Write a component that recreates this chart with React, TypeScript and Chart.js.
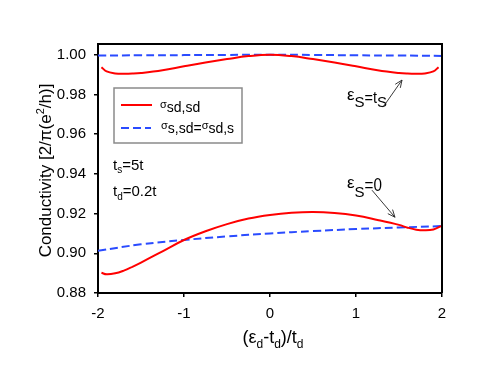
import React, { useEffect, useRef } from "react";
import { Chart, registerables } from "chart.js";

Chart.register(...registerables);

// ---- data ----
const xBlue = [-2, -1.5, -1, -0.5, 0, 0.5, 1, 1.5, 2];
const blueUpper = [0.9996, 0.9997, 0.9998, 0.9999, 1.0, 0.9999, 0.9997, 0.9996, 0.9994];
const blueLower = [0.9013, 0.9045, 0.9067, 0.9085, 0.91, 0.9112, 0.9122, 0.913, 0.9137];

const xRedUpper = [-1.96, -1.9, -1.8, -1.7, -1.6, -1.5, -1.25, -1, -0.75, -0.5, -0.25, 0, 0.25, 0.5, 0.75, 1, 1.25, 1.5, 1.6, 1.7, 1.8, 1.9, 1.96];
const redUpper = [0.9937, 0.9916, 0.9906, 0.9904, 0.9905, 0.9908, 0.9922, 0.9942, 0.9961, 0.9978, 0.9993, 1.0, 0.9993, 0.9978, 0.9961, 0.9942, 0.9922, 0.9908, 0.9905, 0.9904, 0.9906, 0.9916, 0.9937];

const xRedLower = [-1.96, -1.9, -1.8, -1.7, -1.6, -1.5, -1.25, -1, -0.75, -0.5, -0.25, 0, 0.25, 0.5, 0.75, 1, 1.25, 1.5, 1.6, 1.7, 1.8, 1.9, 1.99];
const redLower = [0.8902, 0.8894, 0.8899, 0.8913, 0.8932, 0.8953, 0.901, 0.9067, 0.9111, 0.9147, 0.9175, 0.9193, 0.9204, 0.9208, 0.9203, 0.919, 0.9168, 0.9143, 0.9129, 0.9119, 0.9116, 0.912, 0.9137];

const xTicks = [-2, -1, 0, 1, 2];
const yTicks = [0.88, 0.9, 0.92, 0.94, 0.96, 0.98, 1.0];
const seriesLabels = ["σsd,sd", "σs,sd=σsd,s"];

const RED = "#ff0000";
const BLUE = "#2a4bff";
const FONT = "'Liberation Sans', Arial, sans-serif";

type Seg = { t: string; size: number; dy?: number; sx?: number };

function segsWidth(ctx: CanvasRenderingContext2D, segs: Seg[]) {
  let w = 0;
  for (const s of segs) {
    ctx.font = `${s.size}px ${FONT}`;
    w += ctx.measureText(s.t).width * (s.sx ?? 1);
  }
  return w;
}

function drawSegs(ctx: CanvasRenderingContext2D, segs: Seg[], x: number, y: number) {
  let cx = x;
  ctx.textAlign = "left";
  ctx.textBaseline = "alphabetic";
  for (const s of segs) {
    ctx.font = `${s.size}px ${FONT}`;
    const sx = s.sx ?? 1;
    ctx.save();
    ctx.translate(cx, y + (s.dy ?? 0));
    ctx.scale(sx, 1);
    ctx.fillText(s.t, 0, 0);
    ctx.restore();
    cx += ctx.measureText(s.t).width * sx;
  }
}

function sigmaSegs(label: string, big: number, small: number): Seg[] {
  const out: Seg[] = [];
  const parts = label.split("σ");
  parts.forEach((p, i) => {
    if (i > 0) out.push({ t: "σ", size: small, dy: -4 });
    if (p) out.push({ t: p, size: big });
  });
  return out;
}

function arrow(ctx: CanvasRenderingContext2D, x1: number, y1: number, x2: number, y2: number) {
  ctx.save();
  ctx.strokeStyle = "#222";
  ctx.lineWidth = 0.9;
  ctx.beginPath();
  ctx.moveTo(x1, y1);
  ctx.lineTo(x2, y2);
  const a = Math.atan2(y2 - y1, x2 - x1);
  const L = 8;
  const w = 0.4;
  ctx.moveTo(x2 - L * Math.cos(a - w), y2 - L * Math.sin(a - w));
  ctx.lineTo(x2, y2);
  ctx.lineTo(x2 - L * Math.cos(a + w), y2 - L * Math.sin(a + w));
  ctx.stroke();
  ctx.restore();
}

const overlayPlugin = {
  id: "overlay",
  afterDraw(chart: any) {
    const ctx: CanvasRenderingContext2D = chart.ctx;
    const { left, right, top, bottom } = chart.chartArea;
    const xs = chart.scales.x;
    const ys = chart.scales.y;
    ctx.save();
    ctx.fillStyle = "#000";
    ctx.strokeStyle = "#000";
    // frame top & right
    ctx.lineWidth = 2;
    ctx.beginPath();
    ctx.moveTo(left, top);
    ctx.lineTo(right, top);
    ctx.lineTo(right, bottom);
    ctx.stroke();

    // legend box
    const lx = left + 16, ly = top + 44;
    ctx.strokeStyle = "#8a8a8a";
    ctx.lineWidth = 1.5;
    ctx.strokeRect(lx, ly, 128, 55);
    ctx.lineWidth = 2;
    ctx.strokeStyle = RED;
    ctx.beginPath();
    ctx.moveTo(lx + 7, ly + 17);
    ctx.lineTo(lx + 38, ly + 17);
    ctx.stroke();
    ctx.strokeStyle = BLUE;
    ctx.setLineDash([8, 4]);
    ctx.beginPath();
    ctx.moveTo(lx + 7, ly + 40);
    ctx.lineTo(lx + 37, ly + 40);
    ctx.stroke();
    ctx.setLineDash([]);
    ctx.fillStyle = "#000";
    drawSegs(ctx, sigmaSegs(seriesLabels[0], 14, 11), lx + 46, ly + 24);
    drawSegs(ctx, sigmaSegs(seriesLabels[1], 14, 11), lx + 47, ly + 45);

    // parameters text
    drawSegs(ctx, [
      { t: "t", size: 15 },
      { t: "s", size: 10, dy: 3 },
      { t: "=5t", size: 15 },
    ], left + 15, top + 126);
    drawSegs(ctx, [
      { t: "t", size: 15 },
      { t: "d", size: 10, dy: 4 },
      { t: "=0.2t", size: 15 },
    ], left + 15, top + 152);

    // annotations
    const a1x = xs.getPixelForValue(0.895), a1y = ys.getPixelForValue(0.9736);
    drawSegs(ctx, [
      { t: "ε", size: 17, dy: -7 },
      { t: "S", size: 15 },
      { t: "=t", size: 17, dy: -4, sx: 0.85 },
      { t: "S", size: 15 },
    ], a1x, a1y);
    arrow(ctx, xs.getPixelForValue(1.314), ys.getPixelForValue(0.9736), xs.getPixelForValue(1.535), ys.getPixelForValue(0.98724));

    const a2x = xs.getPixelForValue(0.895), a2y = ys.getPixelForValue(0.92825);
    drawSegs(ctx, [
      { t: "ε", size: 17, dy: -9 },
      { t: "S", size: 15 },
      { t: "=0", size: 19, dy: -6, sx: 0.8 },
    ], a2x, a2y);
    arrow(ctx, xs.getPixelForValue(1.186), ys.getPixelForValue(0.93178), xs.getPixelForValue(1.453), ys.getPixelForValue(0.91816));

    // x title
    const xt: Seg[] = [
      { t: "(ε", size: 18 },
      { t: "d", size: 12, dy: 5 },
      { t: "-t", size: 18 },
      { t: "d", size: 12, dy: 5 },
      { t: ")/t", size: 18 },
      { t: "d", size: 12, dy: 5 },
    ];
    const xw = segsWidth(ctx, xt);
    drawSegs(ctx, xt, (left + right) / 2 + 3 - xw / 2, 343);

    // y title
    const yt: Seg[] = [
      { t: "Conductivity [2/π(e", size: 17 },
      { t: "2", size: 11, dy: -7 },
      { t: "/h)]", size: 17 },
    ];
    const yw = segsWidth(ctx, yt);
    ctx.save();
    ctx.translate(51, (top + bottom) / 2 + 2);
    ctx.rotate(-Math.PI / 2);
    drawSegs(ctx, yt, -yw / 2, 0);
    ctx.restore();

    ctx.restore();
  },
};

export default function App() {
  const ref = useRef<HTMLCanvasElement | null>(null);
  useEffect(() => {
    if (!ref.current) return;
    const pts = (xs: number[], ys: number[]) => xs.map((x, i) => ({ x, y: ys[i] }));
    const common = { pointRadius: 0, borderWidth: 2, tension: 0.4, fill: false };
    const chart = new Chart(ref.current, {
      type: "line",
      data: {
        datasets: [
          { ...common, label: seriesLabels[0], data: pts(xRedUpper, redUpper), borderColor: RED },
          { ...common, label: seriesLabels[0], data: pts(xRedLower, redLower), borderColor: RED },
          { ...common, label: seriesLabels[1], data: pts(xBlue, blueUpper), borderColor: BLUE, borderDash: [8, 4] },
          { ...common, label: seriesLabels[1], data: pts(xBlue, blueLower), borderColor: BLUE, borderDash: [8, 4] },
        ],
      },
      options: {
        responsive: false,
        animation: false,
        layout: { padding: { left: 0, right: 49, top: 44, bottom: 0 } },
        plugins: { legend: { display: false }, tooltip: { enabled: false } },
        scales: {
          x: {
            type: "linear",
            min: -2,
            max: 2,
            afterFit: (s: any) => { s.height = 88; },
            afterBuildTicks: (s: any) => { s.ticks = xTicks.map((v) => ({ value: v })); },
            ticks: { color: "#000", font: { family: FONT, size: 15 }, padding: 8, callback: (v: any) => String(v), maxRotation: 0 },
            grid: { display: true, drawOnChartArea: false, drawTicks: true, tickLength: 4, color: "#000", lineWidth: 1.5 },
            border: { display: true, color: "#000", width: 2 },
          },
          y: {
            type: "linear",
            min: 0.88,
            max: 1.0054,
            afterFit: (s: any) => { s.width = 98; },
            afterBuildTicks: (s: any) => { s.ticks = yTicks.map((v) => ({ value: v })); },
            ticks: { color: "#000", font: { family: FONT, size: 15 }, padding: 8, callback: (v: any) => Number(v).toFixed(2) },
            grid: { display: true, drawOnChartArea: false, drawTicks: true, tickLength: 4, color: "#000", lineWidth: 1.5 },
            border: { display: true, color: "#000", width: 2 },
          },
        },
      },
      plugins: [overlayPlugin],
    });
    return () => chart.destroy();
  }, []);
  return (
    <div style={{ position: "absolute", left: 0, top: 0, width: 491, height: 381, background: "#fff" }}>
      <canvas ref={ref} width={491} height={381} style={{ width: 491, height: 381, display: "block" }} />
    </div>
  );
}
